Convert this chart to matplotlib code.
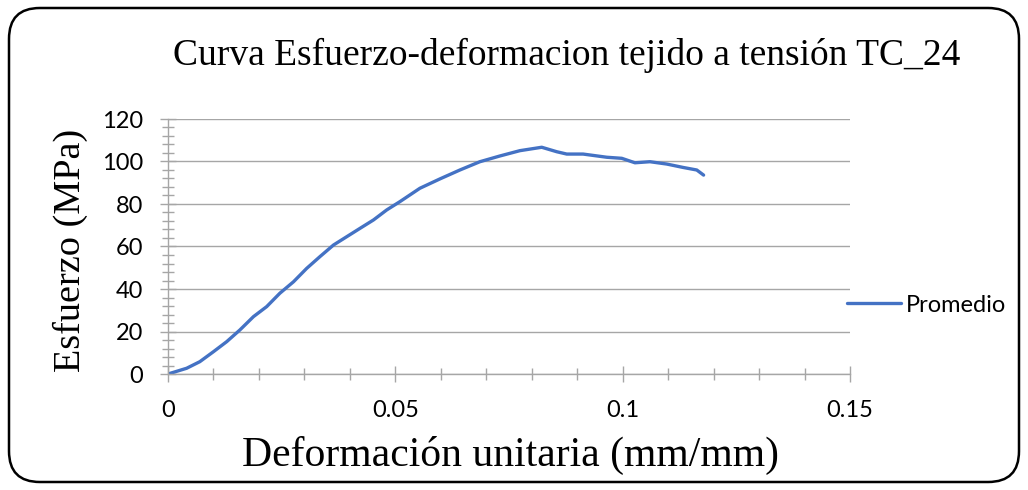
import numpy as np
import matplotlib
matplotlib.use("Agg")
import matplotlib.pyplot as plt
from matplotlib.patches import FancyBboxPatch
from matplotlib.ticker import MultipleLocator

# strain (mm/mm) and stress (MPa)
strain = [0.0, 0.0041, 0.0070, 0.0100, 0.0129, 0.0158, 0.0188, 0.0217, 0.0246,
          0.0276, 0.0305, 0.0334, 0.0364, 0.0393, 0.0422, 0.0452, 0.0481, 0.0510,
          0.0554, 0.0598, 0.0642, 0.0686, 0.0730, 0.0774, 0.0822, 0.0855, 0.0877,
          0.0913, 0.0965, 0.0998, 0.1027, 0.1060, 0.1097, 0.1133, 0.1163, 0.1178]
stress = [0.0, 2.7, 5.8, 10.5, 15.2, 20.7, 27.0, 31.7, 38.0,
          43.4, 49.7, 55.2, 60.7, 64.6, 68.5, 72.5, 77.2, 81.1,
          87.4, 91.8, 96.0, 99.9, 102.6, 105.1, 106.7, 104.6, 103.5,
          103.5, 102.0, 101.5, 99.4, 99.9, 98.8, 97.2, 96.0, 93.6]

x_ticks = [0, 0.05, 0.1, 0.15]
x_ticklabels = ["0", "0.05", "0.1", "0.15"]
y_ticks = [0, 20, 40, 60, 80, 100, 120]

serif = "Liberation Serif"
sans = "Lato"
grey = "#a6a6a6"

fig = plt.figure(figsize=(10.28, 4.9), dpi=100)
ax = fig.add_axes([168/1028, 1 - 374/490, 682/1028, 255/490])

ax.plot(strain, stress, color="#4472C4", lw=2.4, label="Promedio",
        solid_capstyle="round")

ax.set_xlim(0, 0.15)
ax.set_ylim(0, 120)
ax.set_xticks(x_ticks)
ax.set_xticklabels(x_ticklabels)
ax.set_yticks(y_ticks)
ax.xaxis.set_minor_locator(MultipleLocator(0.01))
ax.yaxis.set_minor_locator(MultipleLocator(4))

ax.grid(axis="y", which="major", color=grey, lw=1)
ax.set_axisbelow(True)
for s in ["top", "right"]:
    ax.spines[s].set_visible(False)
for s in ["left", "bottom"]:
    ax.spines[s].set_color(grey)
    ax.spines[s].set_linewidth(1)

ax.tick_params(axis="both", which="both", direction="inout", color=grey,
               width=1, labelsize=17)
ax.tick_params(axis="both", which="major", length=12)
ax.tick_params(axis="both", which="minor", length=8)
ax.tick_params(axis="x", which="major", pad=12.5)
ax.tick_params(axis="y", which="major", pad=12)
for lab in ax.get_xticklabels() + ax.get_yticklabels():
    lab.set_fontfamily(sans)

fig.text(567/1028, 1 - 55/490, "Curva Esfuerzo-deformacion tejido a tensión TC_24",
         family=serif, fontsize=27, ha="center", va="center")
fig.text(70/1028, 1 - 250/490, "Esfuerzo (MPa)", family=serif, fontsize=27.5,
         rotation=90, ha="center", va="center")
fig.text(510/1028, 1 - 455/490, "Deformación unitaria (mm/mm)", family=serif,
         fontsize=30, ha="center", va="center")

leg = fig.legend(loc="center left", bbox_to_anchor=(847/1028, 1 - 305/490),
                 frameon=False, handlelength=2.3, handletextpad=0.2,
                 borderpad=0, borderaxespad=0,
                 prop={"family": sans, "size": 17})

border = FancyBboxPatch((9/1028, 8/490), 1010/1028, 474/490,
                        boxstyle="round,pad=0,rounding_size=0.03",
                        transform=fig.transFigure, fill=False, ec="black",
                        lw=1.8, mutation_aspect=1028/490)
fig.patches.append(border)

fig.savefig("out.png", dpi=100)
